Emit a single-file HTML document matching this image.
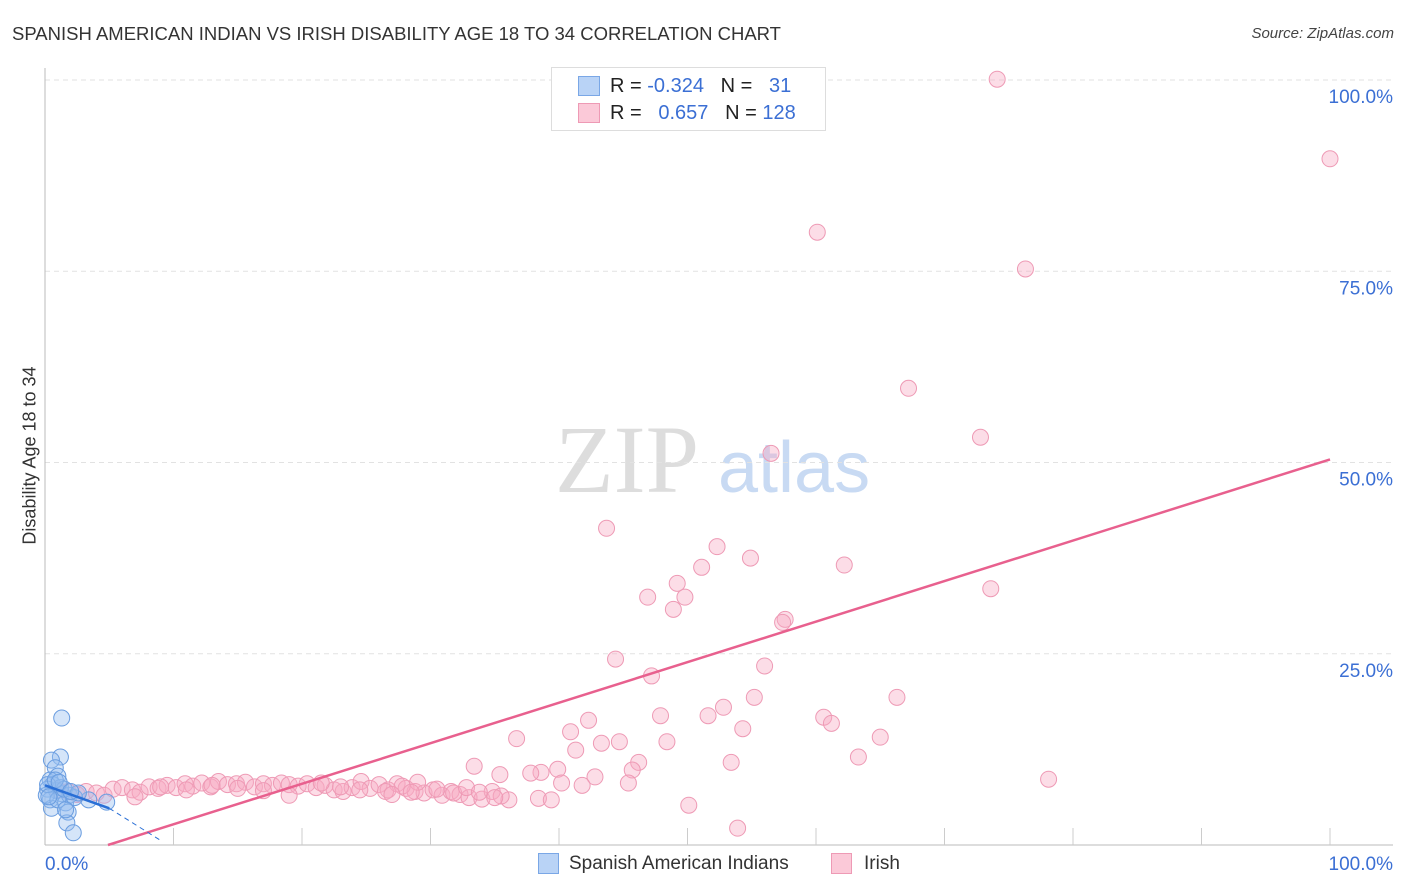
<!DOCTYPE html>
<html><head><meta charset="utf-8"><style>
body{margin:0;background:#fff;font-family:"Liberation Sans",sans-serif;}
#wrap{position:relative;width:1406px;height:892px;overflow:hidden;}
.t{position:absolute;white-space:nowrap;}
</style></head><body>
<div id="wrap">
<div class="t" style="left:12px;top:23px;font-size:18.5px;color:#333;">SPANISH AMERICAN INDIAN VS IRISH DISABILITY AGE 18 TO 34 CORRELATION CHART</div>
<div class="t" style="right:12px;top:25px;font-size:15px;color:#444;font-style:italic;">Source: ZipAtlas.com</div>
<div class="t" style="left:-70px;top:445px;font-size:18px;color:#333;transform:rotate(-90deg);width:200px;text-align:center;">Disability Age 18 to 34</div>
<svg id="svg" width="1406" height="892" style="position:absolute;left:0;top:0">
<text x="555" y="492" font-family="Liberation Serif,serif" font-size="96" fill="#ddd">ZIP</text>
<text x="718" y="492" font-family="Liberation Sans,sans-serif" font-size="72" fill="#c8daf3">atlas</text>
</svg>
<div style="position:absolute;left:551px;top:67px;width:273px;height:62px;border:1px solid #ddd;background:#fff;">
<div style="position:absolute;left:26px;top:8px;width:20px;height:18px;background:#b9d3f6;border:1px solid #7aa7e6;"></div>
<div style="position:absolute;left:26px;top:35px;width:20px;height:18px;background:#fbc9d8;border:1px solid #ee9ab5;"></div>
<div class="t" style="left:58px;top:7px;font-size:20px;color:#222;">R = <span style="color:#3b6fd4">-0.324</span>&nbsp;&nbsp;&nbsp;N = &nbsp;&nbsp;<span style="color:#3b6fd4">31</span></div>
<div class="t" style="left:58px;top:34px;font-size:20px;color:#222;">R = &nbsp;&nbsp;<span style="color:#3b6fd4">0.657</span>&nbsp;&nbsp;&nbsp;N = <span style="color:#3b6fd4">128</span></div>
</div>
<div style="position:absolute;left:538px;top:853px;width:19px;height:19px;background:#b9d3f6;border:1px solid #7aa7e6;"></div>
<div class="t" style="left:569px;top:853px;font-size:19px;color:#333;">Spanish American Indians</div>
<div style="position:absolute;left:831px;top:853px;width:19px;height:19px;background:#fbc9d8;border:1px solid #ee9ab5;"></div>
<div class="t" style="left:864px;top:853px;font-size:19px;color:#333;">Irish</div>
</div>
<script>
const yTicks=[25,50,75,100];
const xTickLabels=["0.0%","100.0%"];
const blueX=[1.3,1.2,0.5,0.8,1.0,0.4,0.6,0.2,0.9,1.3,0.4,0.5,1.6,1.8,1.7,2.2,3.4,4.8,1.9,1.2,2.3,0.1,1.0,1.5,0.2,0.8,1.6,2.6,0.3,1.1,2.0];
const blueY=[16.6,11.5,11.1,10.1,9.0,8.5,7.9,7.3,7.1,6.7,5.9,4.8,5.5,4.3,2.9,1.6,5.9,5.6,6.5,7.5,6.2,6.5,5.9,7.3,7.9,8.5,4.6,6.8,6.3,8.2,7.0];
const pinkX=[74.1,100,60.1,76.3,67.2,72.8,56.5,43.7,52.3,54.9,51.1,62.2,49.2,46.9,49.8,48.9,73.6,57.6,57.4,44.4,56.0,47.2,55.2,66.3,52.8,47.9,51.6,60.6,61.2,42.3,40.9,54.3,36.7,65.0,43.3,44.7,48.4,41.3,63.3,33.4,53.4,46.2,45.7,78.1,39.9,38.6,37.8,42.8,35.4,45.4,40.2,41.8,50.1,53.9,36.1,38.4,39.4,
1.0,1.8,2.5,3.2,4.0,4.6,5.3,6.0,6.8,7.4,8.1,8.8,9.5,10.2,10.9,11.5,12.2,12.9,13.5,14.2,14.9,15.6,16.3,17.0,17.7,18.4,19.0,19.7,20.4,21.1,21.8,22.5,23.2,23.9,24.6,25.3,26.0,26.7,27.4,28.1,28.8,29.5,30.2,30.9,31.6,32.3,33.0,34.0,34.8,35.5,21.5,23.0,26.5,27.8,29.0,30.5,31.8,32.8,33.8,35.0,7.0,9.0,11.0,13.0,15.0,17.0,19.0,24.5,27.0,28.5];
const pinkY=[100.1,89.7,80.1,75.3,59.7,53.3,51.2,41.4,39.0,37.5,36.3,36.6,34.2,32.4,32.4,30.8,33.5,29.5,29.1,24.3,23.4,22.1,19.3,19.3,18.0,16.9,16.9,16.7,15.9,16.3,14.8,15.2,13.9,14.1,13.3,13.5,13.5,12.4,11.5,10.3,10.8,10.8,9.8,8.6,9.9,9.5,9.4,8.9,9.2,8.1,8.1,7.8,5.2,2.2,5.9,6.1,5.9,
7.2,7.0,6.6,7.0,6.8,6.5,7.3,7.5,7.2,6.9,7.6,7.4,7.8,7.5,8.0,7.7,8.1,7.6,8.3,7.9,8.0,8.2,7.6,8.0,7.8,8.1,7.9,7.7,8.0,7.5,7.8,7.2,7.0,7.5,8.3,7.4,7.9,7.2,8.0,7.4,7.0,6.8,7.2,6.5,7.0,6.6,6.2,6.0,7.0,6.4,8.1,7.6,7.0,7.7,8.2,7.3,6.8,7.5,6.9,6.2,6.3,7.6,7.2,7.8,7.4,7.1,6.5,7.2,6.6,6.9];
const X0=45,X1=1330,Y0=845,Y1=80;
const sx=v=>X0+(X1-X0)*v/100, sy=v=>Y0-(Y0-Y1)*v/100;
const svg=document.getElementById('svg');const NS='http://www.w3.org/2000/svg';
function mk(t,a){const e=document.createElementNS(NS,t);for(const k in a)e.setAttribute(k,a[k]);svg.appendChild(e);return e;}
yTicks.forEach(v=>{
 const g=mk('line',{x1:X0,x2:1393,y1:sy(v),y2:sy(v),stroke:'#e2e2e2','stroke-dasharray':'5,4'});
 
 
 const t=mk('text',{x:1393,y:sy(v)+23,'text-anchor':'end','font-size':19,fill:'#3b6fd4','font-family':'Liberation Sans,sans-serif'});
 t.textContent=v.toFixed(1)+'%';
 
 
});
let ax=mk('line',{x1:X0,x2:X0,y1:68,y2:Y0,stroke:'#bbb'});


ax=mk('line',{x1:X0,x2:1393,y1:Y0,y2:Y0,stroke:'#bbb'});


for(let i=1;i<=10;i++){const k=mk('line',{x1:sx(i*10),x2:sx(i*10),y1:Y0-17,y2:Y0,stroke:'#ccc'});
 
 }
[[xTickLabels[0],X0,'start'],[xTickLabels[1],1393,'end']].forEach(([s,x,a])=>{
 const t=mk('text',{x:x,y:870,'text-anchor':a,'font-size':19,fill:'#3b6fd4','font-family':'Liberation Sans,sans-serif'});
 t.textContent=s;
 
 
});
pinkX.forEach((x,i)=>{if(pinkY[i]===undefined)return;const c=mk('circle',{cx:sx(x),cy:sy(pinkY[i]),r:8,fill:'rgba(248,170,195,0.4)',stroke:'#ee9ab5','stroke-width':1});
 
 });
blueX.forEach((x,i)=>{const c=mk('circle',{cx:sx(x),cy:sy(blueY[i]),r:8,fill:'rgba(150,190,240,0.4)',stroke:'#6a9de0','stroke-width':1});
 
 });
let l=mk('line',{x1:sx(4.9),y1:sy(0),x2:sx(100),y2:sy(50.4),stroke:'#e8608e','stroke-width':2.5});


l=mk('line',{x1:sx(0),y1:sy(7.8),x2:sx(5),y2:sy(4.8),stroke:'#2a6fd6','stroke-width':2.5});


l=mk('line',{x1:sx(5),y1:sy(4.8),x2:sx(9),y2:sy(0.6),stroke:'#2a6fd6','stroke-width':1,'stroke-dasharray':'5,4'});


</script>
</body></html>
